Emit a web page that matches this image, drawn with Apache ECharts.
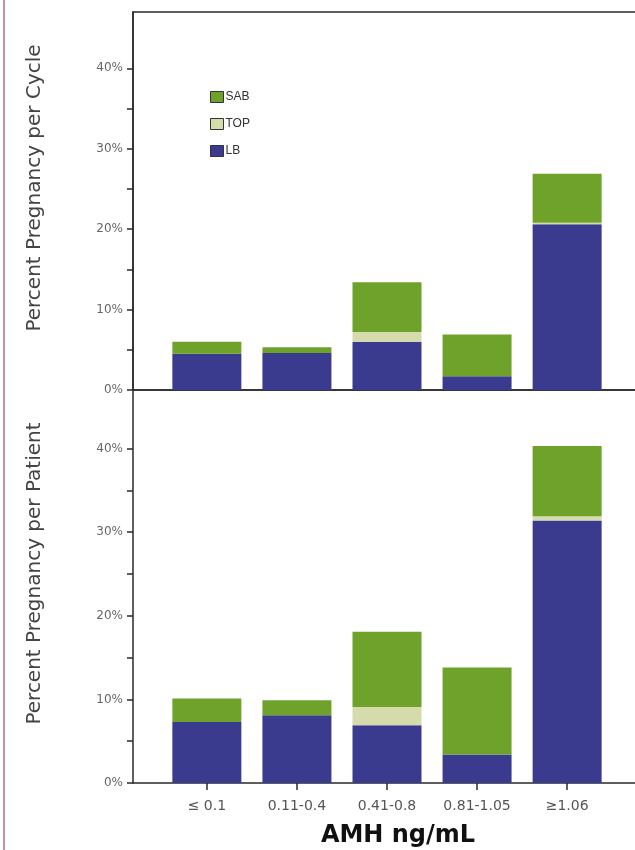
<!DOCTYPE html>
<html>
<head>
<meta charset="utf-8">
<script src="https://cdn.jsdelivr.net/npm/echarts@6/dist/echarts.min.js"></script>
<style>
  html, body { margin: 0; padding: 0; background: #fff; }
  #chart { width: 635px; height: 850px; }
</style>
</head>
<body>
<div id="chart"></div>
<script>
// AMH groups along the x axis
const categories = ['≤ 0.1', '0.11-0.4', '0.41-0.8', '0.81-1.05', '≥1.06'];

// Percent pregnancy per cycle, split by outcome (stacked)
const cycleLB  = [4.5, 4.6, 6.0, 1.7, 20.6];
const cycleTOP = [0,   0,   1.2, 0,   0.2];
const cycleSAB = [1.5, 0.7, 6.2, 5.2, 6.1];

// Percent pregnancy per patient, split by outcome (stacked)
const patientLB  = [7.3, 8.1, 6.9, 3.4, 31.4];
const patientTOP = [0,   0,   2.2, 0,   0.5];
const patientSAB = [2.8, 1.8, 9.0, 10.4, 8.4];

// Value-axis tick positions
const yLabelValues = [0, 10, 20, 30, 40];
const yTickValues  = [0, 5, 10, 15, 20, 25, 30, 35, 40];

const colors = { LB: '#3a3a8e', TOP: '#d5dbab', SAB: '#6ea22a' };
const positions = categories.map((c, i) => i + 1);
// value first so the stack runs along the percentage dimension
const pair = vals => vals.map((v, i) => [v, positions[i]]);

const axisColor = '#2a2a2a';
const labelFont = '"Liberation Sans", Arial, sans-serif';
const wideFont = '"DejaVu Sans", "Liberation Sans", sans-serif';

function yAxisFor(gridIndex, name) {
  return {
    type: 'value', gridIndex, min: 0, max: 47,
    name, nameLocation: 'middle', nameRotate: 90, nameGap: 88,
    nameTextStyle: { fontFamily: wideFont, fontSize: 20, color: '#444', padding: [0, 0, 0, 26] },
    axisLine: { show: true, lineStyle: { color: axisColor, width: 1.5 } },
    axisTick: { show: true, customValues: yTickValues, length: 6, lineStyle: { color: axisColor, width: 1.5 } },
    axisLabel: {
      customValues: yLabelValues, margin: 10,
      formatter: v => v + '%',
      fontFamily: wideFont, fontSize: 12, color: '#666'
    },
    splitLine: { show: false }
  };
}

function xAxisFor(gridIndex, showLabels) {
  return {
    type: 'value', gridIndex, min: 0.18, max: 5.92,
    axisLine: { show: true, onZero: false, lineStyle: { color: axisColor, width: 1.5 } },
    axisTick: { show: showLabels, customValues: positions, length: 7, lineStyle: { color: axisColor, width: 1.5 } },
    axisLabel: {
      show: showLabels, customValues: positions, margin: 16,
      formatter: v => categories[Math.round(v) - 1] || '',
      fontFamily: wideFont, fontSize: 14, color: '#555'
    },
    splitLine: { show: false }
  };
}

function barSeries(name, data, gridIdx, stack) {
  return {
    type: 'bar', name, stack,
    xAxisIndex: gridIdx, yAxisIndex: gridIdx,
    encode: { x: 1, y: 0 },
    data: pair(data), barWidth: 69,
    itemStyle: { color: colors[name] },
    emphasis: { disabled: true }
  };
}

const chart = echarts.init(document.getElementById('chart'), null, { renderer: 'canvas' });
chart.setOption({
  backgroundColor: '#fff',
  animation: false,
  title: {
    text: 'AMH ng/mL', left: 398, top: 824, textAlign: 'center', padding: 0,
    textStyle: { fontFamily: wideFont, fontSize: 24, fontWeight: 'bold', color: '#111' }
  },
  legend: {
    data: ['SAB', 'TOP', 'LB'], orient: 'vertical', left: 210, top: 91, padding: 0,
    itemWidth: 13, itemHeight: 11, itemGap: 15,
    icon: 'rect',
    itemStyle: { borderColor: '#333', borderWidth: 1 },
    textStyle: { fontFamily: labelFont, fontSize: 12, color: '#333', padding: [0, 0, 0, -3] }
  },
  grid: [
    { left: 133, top: 12, width: 517, height: 378, outerBoundsMode: 'none',
      show: true, borderColor: axisColor, borderWidth: 1.5, backgroundColor: 'transparent' },
    { left: 133, top: 390, width: 517, height: 393, outerBoundsMode: 'none' }
  ],
  xAxis: [xAxisFor(0, false), xAxisFor(1, true)],
  yAxis: [yAxisFor(0, 'Percent Pregnancy per Cycle'), yAxisFor(1, 'Percent Pregnancy per Patient')],
  series: [
    barSeries('LB', cycleLB, 0, 'cycle'),
    barSeries('TOP', cycleTOP, 0, 'cycle'),
    barSeries('SAB', cycleSAB, 0, 'cycle'),
    barSeries('LB', patientLB, 1, 'patient'),
    barSeries('TOP', patientTOP, 1, 'patient'),
    barSeries('SAB', patientSAB, 1, 'patient')
  ],
  graphic: [
    { type: 'line', shape: { x1: 4, y1: 0, x2: 4, y2: 850 }, style: { stroke: '#c88fa2', lineWidth: 2 }, silent: true }
  ]
});
</script>
</body>
</html>
